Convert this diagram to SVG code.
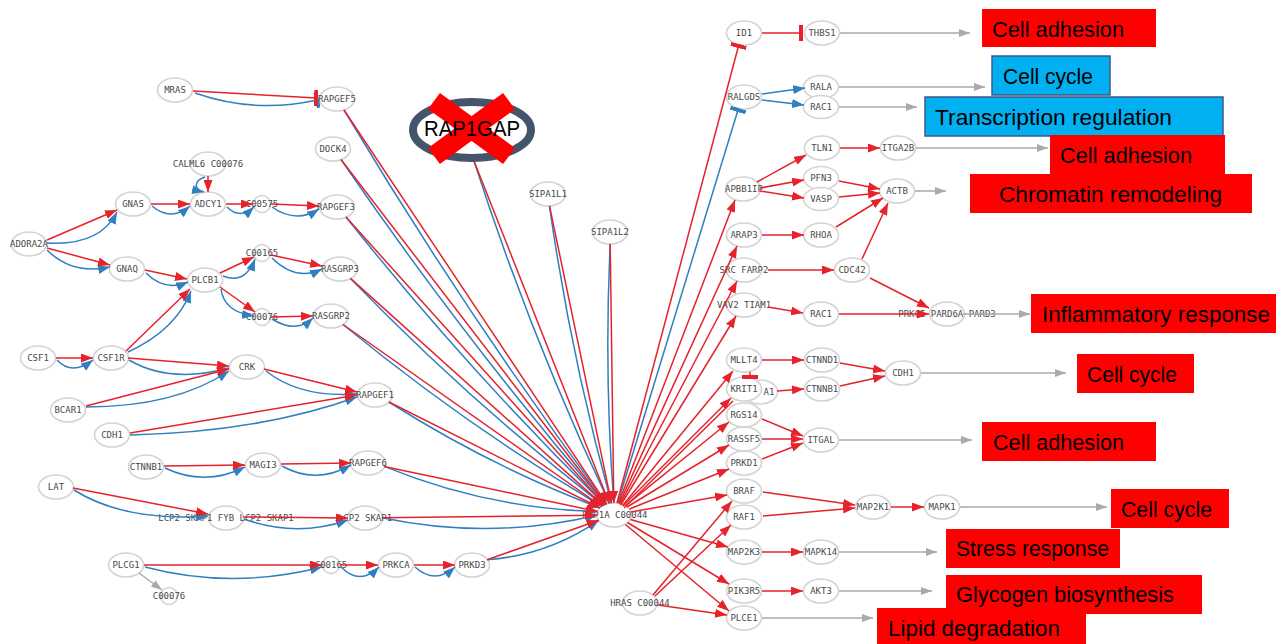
<svg xmlns="http://www.w3.org/2000/svg" width="1276" height="644" viewBox="0 0 1276 644">
<style>
.nd ellipse{fill:#fff;stroke:#d4d4d4;stroke-width:1.6}
.nd text{font-family:"DejaVu Sans Mono","Liberation Mono",monospace;font-size:9px;fill:#4a4a4a;text-anchor:middle}
.r{stroke:#e6222a;stroke-width:1.5;fill:none;marker-end:url(#ar)}
.b{stroke:#2f7fc1;stroke-width:1.5;fill:none;marker-end:url(#ab)}
.g{stroke:#aaa;stroke-width:1.5;fill:none;marker-end:url(#ag)}
.rt{stroke:#e6222a;stroke-width:1.5;fill:none;marker-end:url(#tr)}
.bt{stroke:#2f7fc1;stroke-width:1.5;fill:none;marker-end:url(#tb)}
.rn{stroke:#e6222a;stroke-width:1.5;fill:none}
.lab text{font-family:"Liberation Sans",Arial,sans-serif;font-size:22px;fill:#000}
.red rect{fill:#ff0000}
.blue rect{fill:#00b0f0;stroke:#3a5a8c;stroke-width:1.5}
</style>
<defs>
<marker id="ar" markerUnits="userSpaceOnUse" markerWidth="12" markerHeight="9" refX="12" refY="4.5" orient="auto"><path d="M0,0 L12,4.5 L0,9 z" fill="#e6222a"/></marker>
<marker id="ab" markerUnits="userSpaceOnUse" markerWidth="12" markerHeight="9" refX="12" refY="4.5" orient="auto"><path d="M0,0 L12,4.5 L0,9 z" fill="#2f7fc1"/></marker>
<marker id="ag" markerUnits="userSpaceOnUse" markerWidth="11" markerHeight="8" refX="11" refY="4" orient="auto"><path d="M0,0 L11,4 L0,8 z" fill="#aaa"/></marker>
<marker id="tr" markerUnits="userSpaceOnUse" markerWidth="4" markerHeight="16" refX="2" refY="8" orient="auto"><rect width="4" height="16" fill="#e6222a"/></marker>
<marker id="tb" markerUnits="userSpaceOnUse" markerWidth="4" markerHeight="16" refX="2" refY="8" orient="auto"><rect width="4" height="16" fill="#2f7fc1"/></marker>
</defs>
<rect width="1276" height="644" fill="#fff"/>

<!-- nodes -->
<g id="n-MRAS" class="nd"><ellipse cx="175" cy="90" rx="17.5" ry="12"/><text x="175" y="93">MRAS</text></g>
<g id="n-RAPGEF5" class="nd"><ellipse cx="337" cy="99" rx="17.5" ry="12"/><text x="337" y="102">RAPGEF5</text></g>
<g id="n-DOCK4" class="nd"><ellipse cx="333" cy="149" rx="17.5" ry="12"/><text x="333" y="152">DOCK4</text></g>
<g id="n-CALML6" class="nd"><ellipse cx="208" cy="164" rx="17.5" ry="12"/><text x="208" y="167">CALML6 C00076</text></g>
<g id="n-GNAS" class="nd"><ellipse cx="133" cy="204" rx="17.5" ry="12"/><text x="133" y="207">GNAS</text></g>
<g id="n-ADCY1" class="nd"><ellipse cx="208" cy="204" rx="17.5" ry="12"/><text x="208" y="207">ADCY1</text></g>
<g id="n-C00575" class="nd"><ellipse cx="262" cy="204" rx="8.5" ry="8.5"/><text x="262" y="207">C00575</text></g>
<g id="n-RAPGEF3" class="nd"><ellipse cx="337" cy="207" rx="17.5" ry="12"/><text x="336" y="210">RAPGEF3</text></g>
<g id="n-ADORA2A" class="nd"><ellipse cx="29" cy="244" rx="17.5" ry="12"/><text x="29" y="247">ADORA2A</text></g>
<g id="n-GNAQ" class="nd"><ellipse cx="127" cy="269" rx="17.5" ry="12"/><text x="127" y="272">GNAQ</text></g>
<g id="n-C00165a" class="nd"><ellipse cx="262" cy="253" rx="8.5" ry="8.5"/><text x="262" y="256">C00165</text></g>
<g id="n-RASGRP3" class="nd"><ellipse cx="340" cy="269" rx="17.5" ry="12"/><text x="340" y="272">RASGRP3</text></g>
<g id="n-PLCB1" class="nd"><ellipse cx="205" cy="280" rx="17.5" ry="12"/><text x="205" y="283">PLCB1</text></g>
<g id="n-C00076a" class="nd"><ellipse cx="262" cy="317" rx="8.5" ry="8.5"/><text x="262" y="320">C00076</text></g>
<g id="n-RASGRP2" class="nd"><ellipse cx="331" cy="316" rx="17.5" ry="12"/><text x="331" y="319">RASGRP2</text></g>
<g id="n-CSF1" class="nd"><ellipse cx="38" cy="358" rx="17.5" ry="12"/><text x="38" y="361">CSF1</text></g>
<g id="n-CSF1R" class="nd"><ellipse cx="111" cy="358" rx="17.5" ry="12"/><text x="111" y="361">CSF1R</text></g>
<g id="n-CRK" class="nd"><ellipse cx="247" cy="367" rx="17.5" ry="12"/><text x="247" y="370">CRK</text></g>
<g id="n-BCAR1" class="nd"><ellipse cx="68" cy="410" rx="17.5" ry="12"/><text x="68" y="413">BCAR1</text></g>
<g id="n-RAPGEF1" class="nd"><ellipse cx="375" cy="395" rx="17.5" ry="12"/><text x="375" y="398">RAPGEF1</text></g>
<g id="n-CDH1a" class="nd"><ellipse cx="112" cy="435" rx="17.5" ry="12"/><text x="112" y="438">CDH1</text></g>
<g id="n-CTNNB1a" class="nd"><ellipse cx="146" cy="467" rx="17.5" ry="12"/><text x="146" y="470">CTNNB1</text></g>
<g id="n-MAGI3" class="nd"><ellipse cx="263" cy="465" rx="17.5" ry="12"/><text x="263" y="468">MAGI3</text></g>
<g id="n-RAPGEF6" class="nd"><ellipse cx="368" cy="463" rx="17.5" ry="12"/><text x="368" y="466">RAPGEF6</text></g>
<g id="n-LAT" class="nd"><ellipse cx="56" cy="487" rx="17.5" ry="12"/><text x="56" y="490">LAT</text></g>
<g id="n-FYB" class="nd"><ellipse cx="226" cy="518" rx="17.5" ry="12"/><text x="226" y="521">LCP2 SKAP1 FYB LCP2 SKAP1</text></g>
<g id="n-LCP2SKAP1" class="nd"><ellipse cx="365" cy="518" rx="17.5" ry="12"/><text x="365" y="521">LCP2 SKAP1</text></g>
<g id="n-PLCG1" class="nd"><ellipse cx="126" cy="565" rx="17.5" ry="12"/><text x="126" y="568">PLCG1</text></g>
<g id="n-C00165b" class="nd"><ellipse cx="331" cy="565" rx="8.5" ry="8.5"/><text x="331" y="568">C00165</text></g>
<g id="n-PRKCA" class="nd"><ellipse cx="396" cy="565" rx="17.5" ry="12"/><text x="396" y="568">PRKCA</text></g>
<g id="n-PRKD3" class="nd"><ellipse cx="472" cy="565" rx="17.5" ry="12"/><text x="472" y="568">PRKD3</text></g>
<g id="n-C00076b" class="nd"><ellipse cx="169" cy="596" rx="8.5" ry="8.5"/><text x="169" y="599">C00076</text></g>
<g id="n-SIPA1L1" class="nd"><ellipse cx="548" cy="194" rx="17.5" ry="12"/><text x="548" y="197">SIPA1L1</text></g>
<g id="n-SIPA1L2" class="nd"><ellipse cx="610" cy="232" rx="17.5" ry="12"/><text x="610" y="235">SIPA1L2</text></g>
<g id="n-RAP1A" class="nd"><ellipse cx="614" cy="515" rx="17.5" ry="12"/><text x="615" y="518">RAP1A C00044</text></g>
<g id="n-HRAS" class="nd"><ellipse cx="640" cy="603" rx="17.5" ry="12"/><text x="640" y="606">HRAS C00044</text></g>

<g id="n-ID1" class="nd"><ellipse cx="744" cy="33" rx="17.5" ry="12"/><text x="744" y="36">ID1</text></g>
<g id="n-THBS1" class="nd"><ellipse cx="822" cy="33" rx="17.5" ry="12"/><text x="822" y="36">THBS1</text></g>
<g id="n-RALGDS" class="nd"><ellipse cx="744" cy="97" rx="17.5" ry="12"/><text x="744" y="100">RALGDS</text></g>
<g id="n-RALA" class="nd"><ellipse cx="821" cy="87" rx="17.5" ry="11.5"/><text x="821" y="90">RALA</text></g>
<g id="n-RAC1a" class="nd"><ellipse cx="821" cy="107" rx="17.5" ry="11.5"/><text x="821" y="110">RAC1</text></g>
<g id="n-TLN1" class="nd"><ellipse cx="822" cy="148" rx="17.5" ry="12"/><text x="822" y="151">TLN1</text></g>
<g id="n-ITGA2B" class="nd"><ellipse cx="898" cy="148" rx="17.5" ry="12"/><text x="898" y="151">ITGA2B</text></g>
<g id="n-APBB1IP" class="nd"><ellipse cx="743" cy="189" rx="17.5" ry="12"/><text x="744" y="192">APBB1IP</text></g>
<g id="n-PFN3" class="nd"><ellipse cx="821" cy="178" rx="17.5" ry="11.5"/><text x="821" y="181">PFN3</text></g>
<g id="n-VASP" class="nd"><ellipse cx="821" cy="199" rx="17.5" ry="11.5"/><text x="821" y="202">VASP</text></g>
<g id="n-ACTB" class="nd"><ellipse cx="897" cy="191" rx="17.5" ry="12"/><text x="897" y="194">ACTB</text></g>
<g id="n-ARAP3" class="nd"><ellipse cx="744" cy="235" rx="17.5" ry="12"/><text x="744" y="238">ARAP3</text></g>
<g id="n-RHOA" class="nd"><ellipse cx="821" cy="235" rx="17.5" ry="12"/><text x="821" y="238">RHOA</text></g>
<g id="n-SRCFARP2" class="nd"><ellipse cx="744" cy="270" rx="17.5" ry="12"/><text x="744" y="273">SRC FARP2</text></g>
<g id="n-CDC42" class="nd"><ellipse cx="852" cy="270" rx="17.5" ry="12"/><text x="852" y="273">CDC42</text></g>
<g id="n-VAV2TIAM1" class="nd"><ellipse cx="744" cy="305" rx="17.5" ry="12"/><text x="744" y="308">VAV2 TIAM1</text></g>
<g id="n-RAC1b" class="nd"><ellipse cx="821" cy="314" rx="17.5" ry="12"/><text x="821" y="317">RAC1</text></g>
<g id="n-PARD6A" class="nd"><ellipse cx="947" cy="314" rx="17.5" ry="12"/><text x="947" y="317">PRKCI PARD6A PARD3</text></g>
<g id="n-MLLT4" class="nd"><ellipse cx="744" cy="360" rx="17.5" ry="12"/><text x="744" y="363">MLLT4</text></g>
<g id="n-CTNND1" class="nd"><ellipse cx="822" cy="360" rx="17.5" ry="12"/><text x="822" y="363">CTNND1</text></g>
<g id="n-A1" class="nd"><ellipse cx="760" cy="392" rx="17.5" ry="12"/><text x="769" y="395">A1</text></g>
<g id="n-KRIT1" class="nd"><ellipse cx="744" cy="389" rx="17.5" ry="12"/><text x="744" y="392">KRIT1</text></g>
<g id="n-CTNNB1b" class="nd"><ellipse cx="822" cy="389" rx="17.5" ry="12"/><text x="822" y="392">CTNNB1</text></g>
<g id="n-CDH1b" class="nd"><ellipse cx="903" cy="373" rx="17.5" ry="12"/><text x="903" y="376">CDH1</text></g>
<g id="n-RGS14" class="nd"><ellipse cx="744" cy="415" rx="17.5" ry="12"/><text x="744" y="418">RGS14</text></g>
<g id="n-RASSF5" class="nd"><ellipse cx="744" cy="439" rx="17.5" ry="12"/><text x="744" y="442">RASSF5</text></g>
<g id="n-ITGAL" class="nd"><ellipse cx="821" cy="440" rx="17.5" ry="12"/><text x="821" y="443">ITGAL</text></g>
<g id="n-PRKD1" class="nd"><ellipse cx="744" cy="463" rx="17.5" ry="12"/><text x="744" y="466">PRKD1</text></g>
<g id="n-BRAF" class="nd"><ellipse cx="744" cy="491" rx="17.5" ry="12"/><text x="744" y="494">BRAF</text></g>
<g id="n-RAF1" class="nd"><ellipse cx="744" cy="517" rx="17.5" ry="12"/><text x="744" y="520">RAF1</text></g>
<g id="n-MAP2K1" class="nd"><ellipse cx="873" cy="507" rx="17.5" ry="12"/><text x="873" y="510">MAP2K1</text></g>
<g id="n-MAPK1" class="nd"><ellipse cx="942" cy="507" rx="17.5" ry="12"/><text x="942" y="510">MAPK1</text></g>
<g id="n-MAP2K3" class="nd"><ellipse cx="744" cy="552" rx="17.5" ry="12"/><text x="744" y="555">MAP2K3</text></g>
<g id="n-MAPK14" class="nd"><ellipse cx="821" cy="552" rx="17.5" ry="12"/><text x="821" y="555">MAPK14</text></g>
<g id="n-PIK3R5" class="nd"><ellipse cx="744" cy="591" rx="17.5" ry="12"/><text x="744" y="594">PIK3R5</text></g>
<g id="n-AKT3" class="nd"><ellipse cx="821" cy="591" rx="17.5" ry="12"/><text x="821" y="594">AKT3</text></g>
<g id="n-PLCE1" class="nd"><ellipse cx="744" cy="618" rx="17.5" ry="12"/><text x="744" y="621">PLCE1</text></g>

<!-- connectors -->
<g id="connectors">
<!-- blue (drawn first) -->
<path class="bt" d="M195,93 Q255,114 317,100"/>
<path class="b" d="M205,177 C193,181 194,190 204,192"/>
<path class="b" d="M152,206 Q171,222 190,206"/>
<path class="b" d="M227,207 Q240,220 254,207"/>
<path class="b" d="M272,207 Q296,224 319,209"/>
<path class="b" d="M47,243 Q100,246 117,212"/>
<path class="b" d="M47,250 Q72,275 110,267"/>
<path class="b" d="M146,273 Q165,292 188,282"/>
<path class="b" d="M223,276 Q245,285 255,259"/>
<path class="b" d="M221,289 Q224,312 254,316"/>
<path class="b" d="M272,258 Q296,282 322,269"/>
<path class="b" d="M272,319 Q296,334 313,318"/>
<path class="b" d="M57,360 Q72,376 93,360"/>
<path class="b" d="M128,352 Q176,330 191,291"/>
<path class="b" d="M129,360 Q170,384 229,368"/>
<path class="b" d="M86,407 Q175,407 229,371"/>
<path class="b" d="M266,371 Q300,398 357,394"/>
<path class="b" d="M130,435 Q260,432 357,397"/>
<path class="b" d="M165,468 Q205,487 245,467"/>
<path class="b" d="M282,466 Q316,485 351,465"/>
<path class="b" d="M74,490 Q125,522 208,516"/>
<path class="b" d="M244,519 Q296,538 348,520"/>
<path class="b" d="M145,567 Q232,590 322,567"/>
<path class="b" d="M341,567 Q360,586 379,567"/>
<path class="b" d="M415,567 Q435,585 455,567"/>
<path class="b" d="M344,110 Q465.5,313.6 606.8,504.1"/>
<path class="b" d="M341,159.5 Q464,339.3 605.9,504.5"/>
<path class="b" d="M346,217 Q466.6,369 604.9,504.9"/>
<path class="b" d="M350.5,278.4 Q469,400.9 603.5,505.6"/>
<path class="b" d="M343,324.5 Q465.6,425.3 602,506.5"/>
<path class="b" d="M388.9,402 Q489.1,465.7 600.1,508"/>
<path class="b" d="M384.2,466.4 Q486.9,508.6 597.8,511.6"/>
<path class="b" d="M382,517.8 Q489.8,540.5 597,515.2"/>
<path class="b" d="M487.2,559.7 Q548.3,555.1 598.8,520.3"/>
<path class="b" d="M474,161 Q530.6,336.7 609.4,503.5"/>
<path class="b" d="M549.5,205.8 Q570.7,356.5 611.5,503.2"/>
<path class="b" d="M610.2,244 Q604,373.6 613.8,503"/>
<path class="bt" d="M617.6,503.2 L738,110"/>
<path class="b" d="M762,94 L805,88"/>
<path class="b" d="M762,100 L804,105"/>
<!-- red -->
<path class="rt" d="M193,91 L316,98"/>
<path class="r" d="M208,176 L208,192"/>
<path class="r" d="M151,204 L190,204"/>
<path class="r" d="M226,204 L253,204"/>
<path class="r" d="M271,204 L319,206"/>
<path class="r" d="M47,240 L117,210"/>
<path class="r" d="M47,248 L110,265"/>
<path class="r" d="M145,270 L187,279"/>
<path class="r" d="M220,273 L254,257"/>
<path class="r" d="M220,287 L255,312"/>
<path class="r" d="M271,255 L322,266"/>
<path class="r" d="M271,317 L313,316"/>
<path class="r" d="M56,358 L93,358"/>
<path class="r" d="M126,351 L190,289"/>
<path class="r" d="M128,358 L229,366"/>
<path class="r" d="M86,406 L229,369"/>
<path class="r" d="M264,369 L357,392"/>
<path class="r" d="M130,433 L357,395"/>
<path class="r" d="M164,466 L245,465"/>
<path class="r" d="M281,464 L351,463"/>
<path class="r" d="M73,488 L208,514"/>
<path class="r" d="M243,517 L348,518"/>
<path class="r" d="M144,565 L322,565"/>
<path class="r" d="M340,565 L378,565"/>
<path class="r" d="M414,565 L455,565"/>
<path class="g" d="M139,573 L162,590"/>

<path class="r" d="M344,110 L606.8,504.1"/>
<path class="r" d="M341,159.5 L605.9,504.5"/>
<path class="r" d="M346,217 L604.9,504.9"/>
<path class="r" d="M350.5,278.4 L603.5,505.6"/>
<path class="r" d="M343,324.5 L602,506.5"/>
<path class="r" d="M388.9,402 L600.1,508"/>
<path class="r" d="M384.2,466.4 L597.8,511.6"/>
<path class="r" d="M382,517.8 L597,515.2"/>
<path class="r" d="M487.2,559.7 L598.8,520.3"/>
<path class="r" d="M474,161 L609.4,503.5"/>
<path class="r" d="M549.5,205.8 L611.5,503.2"/>
<path class="r" d="M610.2,244 L613.8,503"/>

<path class="rt" d="M617,503 L738.5,46"/>
<path class="r" d="M618.5,503.3 L735,200"/>
<path class="r" d="M619.3,503.6 L737,246"/>
<path class="r" d="M620,504.5 L737,281"/>
<path class="r" d="M620.8,505 L736,316"/>
<path class="r" d="M622.5,505.8 L733,371"/>
<path class="r" d="M623,506 L731,398"/>
<path class="rn" d="M624,508 L733,401"/>
<path class="r" d="M625.2,505.9 L729,422"/>
<path class="r" d="M627,507 L729,445"/>
<path class="r" d="M629.5,509 L729,469"/>
<path class="r" d="M630.7,512 L727,495"/>
<path class="r" d="M630.4,519.5 L728,547"/>
<path class="r" d="M627.5,522.5 L729,584"/>
<path class="r" d="M625.5,524.5 L729,611"/>
<path class="r" d="M653,595 L732,501"/>
<path class="r" d="M655,596 L731,525"/>
<path class="r" d="M658,605 L727,615"/>

<path class="rt" d="M762,33 L801,33"/>
<path class="g" d="M840,33 L970,33"/>
<path class="g" d="M839,87 L985,87"/>
<path class="g" d="M839,107 L917,107"/>
<path class="r" d="M840,148 L880,148"/>
<path class="g" d="M916,148 L1048,148"/>
<path class="r" d="M757,182 L806,155"/>
<path class="r" d="M760,188 L804,180"/>
<path class="r" d="M760,191 L804,198"/>
<path class="r" d="M839,181 L880,189"/>
<path class="r" d="M839,197 L880,193"/>
<path class="g" d="M915,191 L946,191"/>
<path class="r" d="M836,227 L883,198"/>
<path class="r" d="M862,259 L888,203"/>
<path class="r" d="M762,235 L804,235"/>
<path class="r" d="M768,270 L834,270"/>
<path class="r" d="M870,278 L929,308"/>
<path class="r" d="M768,307 L803,313"/>
<path class="r" d="M839,314 L929,314"/>
<path class="g" d="M963,314 L1030,314"/>
<path class="r" d="M762,360 L804,360"/>
<path class="r" d="M777,391 L804,389"/>
<path class="rt" d="M750,372 L750,377"/>
<path class="r" d="M840,363 L885,371"/>
<path class="r" d="M840,386 L885,376"/>
<path class="g" d="M921,373 L1066,373"/>
<path class="r" d="M762,419 L803,436"/>
<path class="r" d="M762,439 L803,439"/>
<path class="r" d="M762,459 L803,443"/>
<path class="g" d="M839,440 L972,440"/>
<path class="r" d="M763,492 L855,505"/>
<path class="r" d="M763,516 L855,508"/>
<path class="r" d="M891,507 L924,507"/>
<path class="g" d="M960,507 L1107,507"/>
<path class="r" d="M762,552 L803,552"/>
<path class="g" d="M839,552 L937,552"/>
<path class="r" d="M762,591 L803,591"/>
<path class="g" d="M839,591 L932,591"/>
<path class="g" d="M762,618 L873,618"/>
</g>

<g id="n-RAP1GAP">
<ellipse cx="472" cy="130" rx="59" ry="28" fill="#fff" stroke="#44546a" stroke-width="8"/>
<line x1="434" y1="101" x2="509" y2="156" stroke="#ff0000" stroke-width="20"/>
<line x1="509" y1="101" x2="434" y2="156" stroke="#ff0000" stroke-width="20"/>
<text x="472" y="136" font-family="Liberation Sans, Arial, sans-serif" font-size="22" text-anchor="middle" textLength="96" lengthAdjust="spacingAndGlyphs" fill="#000">RAP1GAP</text>
</g>

<!-- labels -->
<g class="lab">
<g id="l1" class="red"><rect x="982" y="9" width="174" height="38"/><text x="992" y="37" textLength="132" lengthAdjust="spacingAndGlyphs">Cell adhesion</text></g>
<g id="l2" class="blue"><rect x="992" y="56" width="118" height="39"/><text x="1003" y="84" textLength="90" lengthAdjust="spacingAndGlyphs">Cell cycle</text></g>
<g id="l3" class="blue"><rect x="925" y="97" width="298" height="39"/><text x="935" y="125" textLength="237" lengthAdjust="spacingAndGlyphs">Transcription regulation</text></g>
<g id="l4" class="red"><rect x="1050" y="135" width="175" height="39"/><text x="1060" y="163" textLength="132" lengthAdjust="spacingAndGlyphs">Cell adhesion</text></g>
<g id="l5" class="red"><rect x="970" y="174" width="282" height="39"/><text x="999" y="202" textLength="223" lengthAdjust="spacingAndGlyphs">Chromatin remodeling</text></g>
<g id="l6" class="red"><rect x="1031" y="294" width="245" height="39"/><text x="1042" y="322" textLength="228" lengthAdjust="spacingAndGlyphs">Inflammatory response</text></g>
<g id="l7" class="red"><rect x="1077" y="354" width="117" height="39"/><text x="1087" y="382" textLength="90" lengthAdjust="spacingAndGlyphs">Cell cycle</text></g>
<g id="l8" class="red"><rect x="982" y="422" width="174" height="39"/><text x="993" y="450" textLength="131" lengthAdjust="spacingAndGlyphs">Cell adhesion</text></g>
<g id="l9" class="red"><rect x="1111" y="489" width="118" height="39"/><text x="1121" y="517" textLength="91" lengthAdjust="spacingAndGlyphs">Cell cycle</text></g>
<g id="l10" class="red"><rect x="946" y="529" width="174" height="39"/><text x="956" y="556" textLength="153" lengthAdjust="spacingAndGlyphs">Stress response</text></g>
<g id="l11" class="red"><rect x="946" y="575" width="256" height="39"/><text x="956" y="602" textLength="218" lengthAdjust="spacingAndGlyphs">Glycogen biosynthesis</text></g>
<g id="l12" class="red"><rect x="877" y="608" width="209" height="40"/><text x="888" y="636" textLength="172" lengthAdjust="spacingAndGlyphs">Lipid degradation</text></g>
</g>
</svg>
